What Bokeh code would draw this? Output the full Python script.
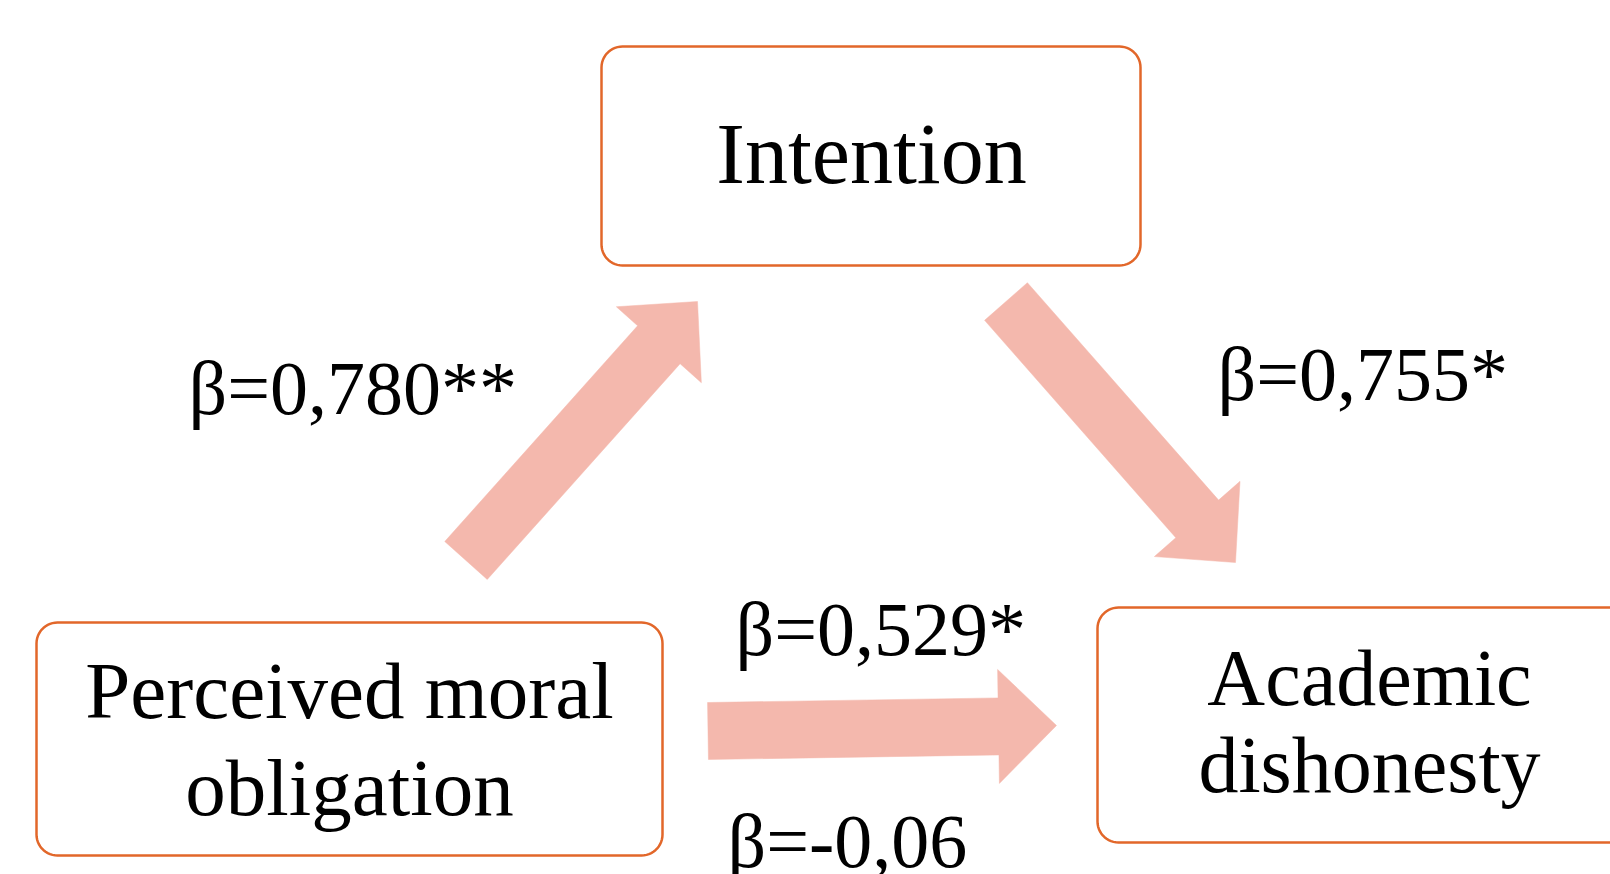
import numpy as np
from bokeh.plotting import figure
from bokeh.models import Range1d
from bokeh.core.properties import value
from bokeh.embed import file_html
from bokeh.resources import INLINE

# ---- data ----
node_names = ["Intention", "Perceived moral obligation", "Academic dishonesty"]
node_lines = [["Intention"], ["Perceived moral", "obligation"], ["Academic", "dishonesty"]]
path_from = ["Perceived moral obligation", "Intention", "Perceived moral obligation", "Perceived moral obligation"]
path_to = ["Intention", "Academic dishonesty", "Academic dishonesty", "Academic dishonesty"]
path_labels = ["β=0,780**", "β=0,755*", "β=0,529*", "β=-0,06"]

# ---- layout (pixel positions on the page) ----
box_l = [601, 36, 1097]
box_r = [1140, 662, 1680]
box_t = [46, 622, 607]
box_b = [265, 855, 842]
box_text_x = [871, 349, 1369]
box_text_y = [[182], [719, 816], [706, 793]]
box_font = ["86px", "81px", "80px"]

arrows = [  # tail (x,y), tip (x,y)
    ((465.5, 560.0), (697.0, 301.0)),
    ((1005.5, 301.0), (1235.0, 562.0)),
    ((707.5, 730.5), (1056.0, 725.0)),
]
label_x = [188, 1217, 735, 727]
label_y = [416, 402, 657, 869]
BASE_SHIFT = 29  # renderer's baseline offset correction

BOX_COLOR = "#E2672A"
ARROW_COLOR = "#F4B8AD"
FONT = "Liberation Serif"


def rounded_rect(l, r, t, b, rad, n=14):
    xs, ys = [], []
    corners = [
        (r - rad, t + rad, -np.pi / 2, 0),
        (r - rad, b - rad, 0, np.pi / 2),
        (l + rad, b - rad, np.pi / 2, np.pi),
        (l + rad, t + rad, np.pi, 1.5 * np.pi),
    ]
    for cx, cy, a0, a1 in corners:
        a = np.linspace(a0, a1, n)
        xs.extend(cx + rad * np.cos(a))
        ys.extend(cy + rad * np.sin(a))
    return xs, ys


def arrow_poly(tail, tip, w=57, hw=114, hl=58):
    t = np.array(tail, float)
    h = np.array(tip, float)
    d = h - t
    u = d / np.linalg.norm(d)
    nv = np.array([-u[1], u[0]])
    neck = h - u * hl
    pts = [t + nv * w / 2, neck + nv * w / 2, neck + nv * hw / 2, h,
           neck - nv * hw / 2, neck - nv * w / 2, t - nv * w / 2]
    return [p[0] for p in pts], [p[1] for p in pts]


W, H = 1610, 874
p = figure(width=W, height=H, x_range=Range1d(0, W), y_range=Range1d(H, 0),
           output_backend="svg", toolbar_location=None, min_border=0,
           background_fill_color="white", border_fill_color="white")
p.outline_line_color = None
p.axis.visible = False
p.grid.visible = False

# arrows
axs, ays = [], []
for tail, tip in arrows:
    xs, ys = arrow_poly(tail, tip)
    axs.append(xs)
    ays.append(ys)
p.patches(axs, ays, fill_color=ARROW_COLOR, line_color=ARROW_COLOR, line_width=0.5)

# boxes
bxs, bys = [], []
for i in range(len(node_names)):
    xs, ys = rounded_rect(box_l[i], box_r[i], box_t[i], box_b[i], 21)
    bxs.append(xs)
    bys.append(ys)
p.patches(bxs, bys, fill_color="white", line_color=BOX_COLOR, line_width=2.5)

# box texts
for i, lines in enumerate(node_lines):
    p.text(x=[box_text_x[i]] * len(lines), y=[v - BASE_SHIFT for v in box_text_y[i]],
           text=lines, text_font=value(FONT), text_font_size=box_font[i],
           text_color="black", text_align="center", text_baseline="alphabetic")

# path labels
p.text(x=label_x, y=[v - BASE_SHIFT for v in label_y], text=path_labels,
       text_font=value(FONT), text_font_size="76px", text_color="black",
       text_align="left", text_baseline="alphabetic")

open("out.html", "w").write(file_html(p, INLINE))
